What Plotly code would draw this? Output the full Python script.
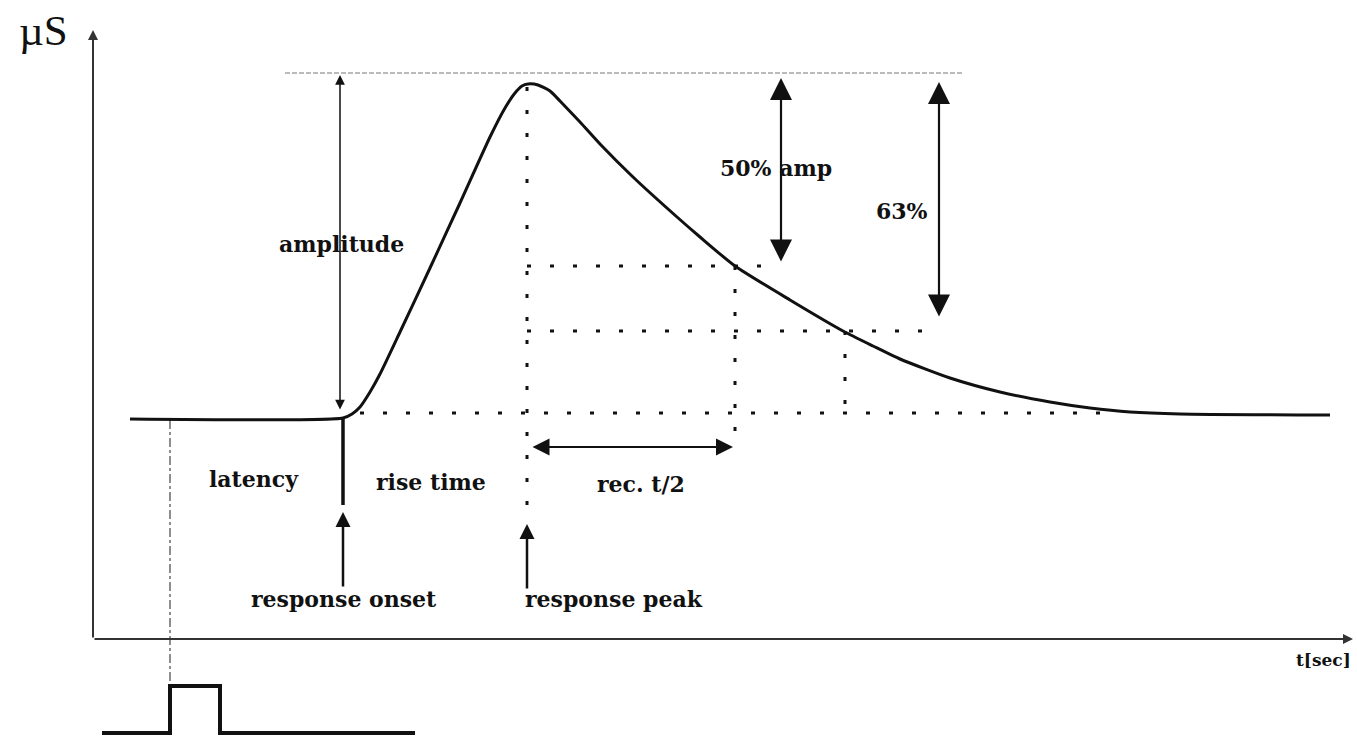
import plotly.graph_objects as go

# ---- data (arbitrary time units on x, conductance level in arbitrary units on y) ----
scr_t = [130, 343, 352, 360, 370, 380, 400, 430, 460, 490, 505, 515, 522, 528, 538, 550, 560,
         580, 600, 633, 677, 700, 735, 790, 843, 873, 900, 950, 1000, 1050, 1090, 1130, 1180, 1330]
scr_level = [318, 319, 323, 330, 345, 363, 405, 469, 534, 600, 629, 644, 651, 653, 652, 646, 636,
             615, 593, 560, 520, 500, 471, 437, 406, 391, 378, 359, 345, 335, 329, 325, 323, 322]

stim_t = [102, 170, 170, 220, 220, 415]
stim_level = [4, 4, 51, 51, 4, 4]

baseline_level = 324
peak_t, peak_level = 527, 653
top_ref_level = 664
half_level = 471
half_t = 735
tau_level = 406
tau_t = 845
onset_t = 343
stim_onset_t = 170

labels = ["amplitude", "latency", "rise time", "rec. t/2", "response onset",
          "response peak", "50% amp", "63%"]

BLACK = "#111111"
fig = go.Figure()

def line(x, y, width=3, color=BLACK, dash=None, shape="linear", smoothing=None):
    ld = dict(color=color, width=width, dash=dash, shape=shape)
    if smoothing is not None:
        ld["smoothing"] = smoothing
    fig.add_trace(go.Scatter(x=x, y=y, mode="lines", hoverinfo="skip", showlegend=False, line=ld))

DOT = "4px,19px"
# reference / guide lines
line([285, 963], [top_ref_level, top_ref_level], width=1, color="#777777", dash="5px,2px")
line([360, 1112], [baseline_level, baseline_level], width=3, dash=DOT)
line([peak_t, peak_t], [650, 219], width=3, dash=DOT)
line([peak_t, 778], [half_level, half_level], width=3, dash=DOT)
line([peak_t, 940], [tau_level, tau_level], width=3, dash=DOT)
line([half_t, half_t], [half_level, 295], width=3, dash=DOT)
line([tau_t, tau_t], [tau_level, baseline_level], width=3, dash=DOT)
line([stim_onset_t, stim_onset_t], [317, 51], width=1.2, color="#444444", dash="dashdot")

# SCR curve
line(scr_t, scr_level, width=3, shape="spline", smoothing=0.6)
# onset marker
line([onset_t, onset_t], [319, 232], width=3.5)
# stimulus
line(stim_t, stim_level, width=4)

def arrow(x0, y0, x1, y1, width=2, size=1.0, both=False, color=BLACK):
    fig.add_annotation(x=x1, y=y1, ax=x0, ay=y0, xref="x", yref="y", axref="x", ayref="y",
                       text="", showarrow=True, arrowhead=2, arrowsize=size, arrowwidth=width,
                       arrowcolor=color, standoff=0, startstandoff=0,
                       arrowside="end+start" if both else "end",
                       startarrowhead=2, startarrowsize=size)

# axes
arrow(93, 98, 93, 707, width=2, size=1.0, color="#333333")
arrow(93, 98, 1353, 98, width=2, size=1.0, color="#333333")
# measurement arrows
arrow(340, 326, 340, 662, width=1.5, size=1.3, both=True)
arrow(781, 474, 781, 659, width=2.2, size=2.0, both=True)
arrow(939, 419, 939, 655, width=2.2, size=2.0, both=True)
arrow(531, 290, 733, 290, width=2, size=1.7, both=True)
arrow(onset_t, 149, onset_t, 225, width=2.5, size=1.2)
arrow(peak_t, 147, peak_t, 213, width=2.5, size=1.2)

def text(s, x, y, size=22, xanchor="center", family="DejaVu Serif", bold=True):
    fig.add_annotation(x=x, y=y, xref="x", yref="y", text=f"<b>{s}</b>" if bold else s,
                       showarrow=False, xanchor=xanchor, yanchor="middle",
                       font=dict(family=family, size=size, color=BLACK))

text(labels[0], 341, 493)
text(labels[1], 254, 258)
text(labels[2], 431, 255)
text(labels[3], 641, 253)
text(labels[4], 344, 138)
text(labels[5], 523, 138, xanchor="left")
text(labels[6], 776, 569)
text(labels[7], 902, 526)
text("t[sec]", 1323, 77, size=17)
text("µS", 43, 707, size=43, family="Liberation Serif", bold=False)

fig.update_layout(
    width=1357, height=737, margin=dict(l=0, r=0, t=0, b=0),
    paper_bgcolor="white", plot_bgcolor="white",
    xaxis=dict(range=[0, 1357], visible=False, fixedrange=True),
    yaxis=dict(range=[0, 737], visible=False, fixedrange=True),
)
fig.write_html("out.html", config={"displayModeBar": False},
               post_script="document.body.style.margin='0';document.body.style.overflow='hidden';")
